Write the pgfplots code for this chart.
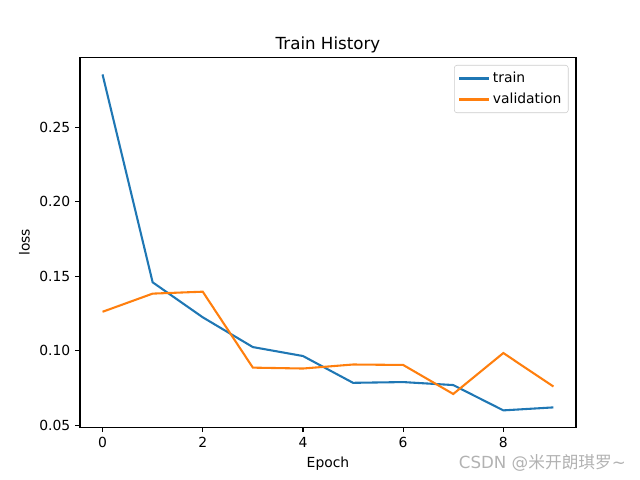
\documentclass[border=0pt]{standalone}
\usepackage{pgfplots}
\pgfplotsset{compat=1.18}
\usepackage{fontspec}
\setmainfont{DejaVu Sans}
\newfontfamily\cjk{Noto Sans CJK SC}
\definecolor{mplblue}{HTML}{1F77B4}
\definecolor{mplorange}{HTML}{FF7F0E}
\begin{document}
\begin{tikzpicture}[x=0.72pt,y=0.72pt]
\path[use as bounding box] (0,0) rectangle (640,480);
\begin{axis}[
  at={(80*0.72pt,52.8*0.72pt)}, anchor=south west,
  scale only axis, width=496*0.72pt, height=369.6*0.72pt,
  xmin=-0.45, xmax=9.45, ymin=0.0487, ymax=0.2969,
  xtick={0,2,4,6,8}, ytick={0.05,0.10,0.15,0.20,0.25},
  yticklabel style={/pgf/number format/.cd,fixed,fixed zerofill,precision=2},
  /pgf/number format/assume math mode=true,
  tick align=outside, major tick length=3.5pt,
  tick style={black, line width=0.8pt},
  xtick pos=bottom, ytick pos=left,
  axis line style={line width=0.8pt},
  ticklabel style={font=\fontsize{10}{12}\selectfont},
  xlabel={Epoch}, ylabel={loss},
  label style={font=\fontsize{10}{12}\selectfont},
  title={Train History}, title style={font=\fontsize{12}{14}\selectfont, yshift=-6.5pt},
  legend style={font=\fontsize{10}{12}\selectfont, draw=black!20, rounded corners=2pt, at={(0.985,0.98)}, anchor=north east, row sep=2pt, inner sep=3pt},
  legend cell align=left,
  legend image code/.code={\draw[#1] (0cm,0cm) -- (0.75cm,0cm);},
]
\addplot[mplblue, line width=1.5pt] coordinates {
(0,0.2856) (1,0.146) (2,0.1225) (3,0.1025) (4,0.0965) (5,0.0785) (6,0.079) (7,0.077) (8,0.060) (9,0.062)};
\addlegendentry{train}
\addplot[mplorange, line width=1.5pt] coordinates {
(0,0.1262) (1,0.1384) (2,0.1397) (3,0.0887) (4,0.0881) (5,0.0908) (6,0.0905) (7,0.0710) (8,0.0985) (9,0.0760)};
\addlegendentry{validation}
\end{axis}
\node[anchor=east, text=black!30, font=\fontsize{12}{14}\selectfont, inner sep=0pt] at (626,17) {CSDN @{\cjk 米开朗琪罗}\textasciitilde};
\end{tikzpicture}
\end{document}
